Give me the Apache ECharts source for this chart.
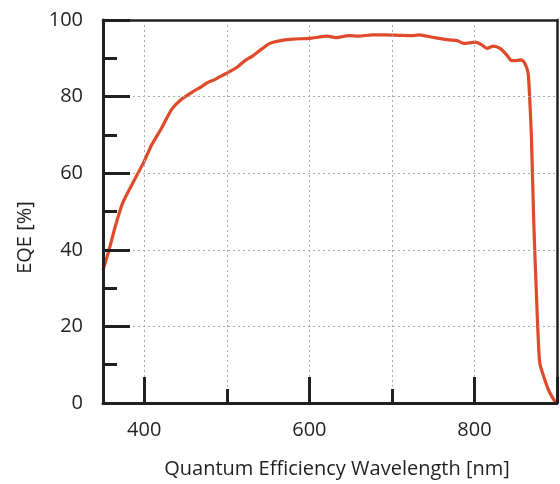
<!DOCTYPE html>
<html>
<head>
<meta charset="utf-8">
<script src="https://cdn.jsdelivr.net/npm/echarts@6/dist/echarts.min.js"></script>
<style>
  html, body { margin: 0; padding: 0; background: #fff; }
  #chart { width: 560px; height: 484px; }
</style>
</head>
<body>
<div id="chart"></div>
<script>
// 波长 (nm)
const wavelength = [350, 357, 365, 374, 385, 399, 409, 421, 433, 445, 459, 468, 477, 484, 490, 498,
  512, 522, 532, 542, 552, 562, 580, 600, 622, 632, 648, 660, 676, 692, 708, 724, 733, 749, 769,
  779, 787, 801, 809, 815, 823, 831, 839, 845, 851, 857, 861, 865, 867, 869, 872, 875, 879, 885, 891, 898];
// EQE (%)
const eqe = [34.7, 39.7, 46.2, 52.3, 57, 62.7, 67.4, 71.8, 76.6, 79.3, 81.3, 82.4, 83.7, 84.3, 85, 85.9,
  87.6, 89.4, 90.7, 92.4, 93.9, 94.5, 95, 95.2, 95.8, 95.4, 95.9, 95.8, 96.1, 96.1, 96, 95.9, 96.1, 95.5, 94.8,
  94.6, 93.9, 94.2, 93.5, 92.6, 93.2, 92.6, 90.9, 89.4, 89.4, 89.6, 88.7, 86.1, 79.2, 69.6, 46.2, 28.8, 10.6, 6.2, 2.8, 0.2];
const xLabels = [400, 600, 800];

const ink = '#231f20';
const font = 'Open Sans';
const gridDot = { color: '#aaaaaa', type: [2, 3], width: 1 };

const chart = echarts.init(document.getElementById('chart'), null, { renderer: 'canvas' });

const points = wavelength.map((w, i) => [w, eqe[i]]);

// 上、右边框
const borderAxis = {
  type: 'value',
  axisLine: { show: true, lineStyle: { color: ink, width: 2.5 } },
  axisTick: { show: false },
  axisLabel: { show: false },
  splitLine: { show: false },
  z: 5
};

const option = {
  animation: false,
  grid: { left: 103, right: 2, top: 20, bottom: 80, containLabel: false },
  xAxis: [
    {
      // 主轴：网格线 + 短刻度 + 标签
      type: 'value',
      position: 'bottom',
      min: 350, max: 900,
      splitNumber: 5,
      axisLine: { show: true, lineStyle: { color: ink, width: 3 } },
      axisTick: { show: true, inside: true, length: 14, lineStyle: { color: ink, width: 3 } },
      axisLabel: {
        color: ink, fontFamily: font, fontSize: 20, margin: 17,
        formatter: v => (xLabels.indexOf(v) >= 0 ? String(v) : '')
      },
      splitLine: { show: true, lineStyle: gridDot },
      name: 'Quantum Efficiency Wavelength [nm]',
      nameLocation: 'middle',
      nameGap: 56,
      nameTextStyle: { color: ink, fontFamily: font, fontSize: 20, padding: [0, 0, 0, 14] },
      z: 4
    },
    {
      // 长刻度 400/600/800
      type: 'value',
      position: 'bottom',
      min: 350, max: 900,
      splitNumber: 3,
      axisLine: { show: false },
      axisTick: { show: true, inside: true, length: 26, lineStyle: { color: ink, width: 3 } },
      axisLabel: { show: false },
      splitLine: { show: false },
      z: 4
    },
    Object.assign({ position: 'top', min: 350, max: 900 }, borderAxis)
  ],
  yAxis: [
    {
      type: 'value',
      position: 'left',
      min: 0, max: 100, interval: 20,
      axisLine: { show: true, lineStyle: { color: ink, width: 3 } },
      axisTick: { show: true, inside: true, length: 27, lineStyle: { color: ink, width: 3 } },
      minorTick: { show: true, splitNumber: 2, length: 14, lineStyle: { color: ink, width: 3 } },
      axisLabel: { color: ink, fontFamily: font, fontSize: 20, margin: 20 },
      splitLine: { show: true, lineStyle: gridDot },
      name: 'EQE [%]',
      nameLocation: 'middle',
      nameGap: 68,
      nameTextStyle: { color: ink, fontFamily: font, fontSize: 20, padding: [0, 52, 0, 0] },
      z: 4
    },
    Object.assign({ position: 'right', min: 0, max: 100 }, borderAxis)
  ],
  series: [
    {
      type: 'line',
      data: points,
      xAxisIndex: 0,
      yAxisIndex: 0,
      showSymbol: false,
      smooth: 0.2,
      lineStyle: { color: '#de4a2a', width: 3.2 },
      z: 3
    }
  ]
};

chart.setOption(option);
</script>
</body>
</html>
